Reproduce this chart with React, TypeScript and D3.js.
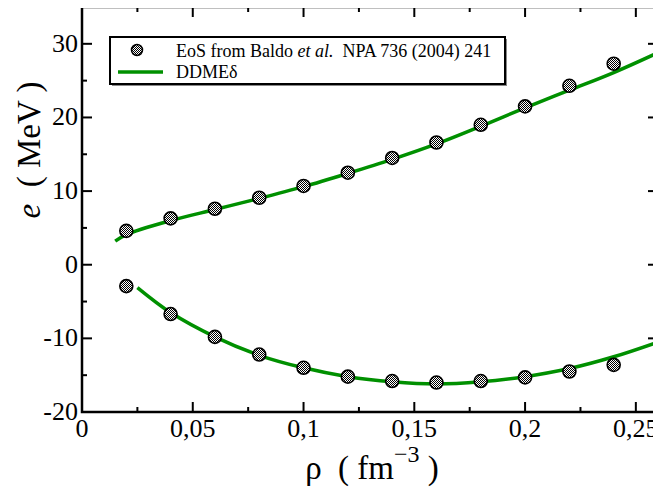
import React from 'react';
import * as d3 from 'd3';

// Baldo et al. data points
const rhoPts = [0.02, 0.04, 0.06, 0.08, 0.1, 0.12, 0.14, 0.16, 0.18, 0.2, 0.22, 0.24];
const pnmPts = [4.6, 6.3, 7.6, 9.1, 10.7, 12.5, 14.5, 16.6, 19.0, 21.5, 24.3, 27.3];
const snmPts = [-2.9, -6.7, -9.8, -12.2, -14.0, -15.2, -15.8, -16.0, -15.8, -15.3, -14.5, -13.6];

// DDME-delta curves
const rhoUp = [0.015, 0.02, 0.04, 0.06, 0.08, 0.1, 0.12, 0.14, 0.16, 0.18, 0.2, 0.22, 0.24, 0.26];
const ddmeUp = [3.2, 4.1, 6.0, 7.5, 9.0, 10.6, 12.4, 14.3, 16.4, 18.8, 21.3, 23.7, 26.1, 28.8];
const rhoLo = [0.025, 0.04, 0.06, 0.08, 0.1, 0.12, 0.14, 0.16, 0.18, 0.2, 0.22, 0.24, 0.26];
const ddmeLo = [-3.1, -6.5, -9.8, -12.3, -14.0, -15.2, -15.9, -16.2, -15.9, -15.2, -14.1, -12.5, -10.5];

const xTicks = [0, 0.05, 0.1, 0.15, 0.2, 0.25];
const xTickLabels = ['0', '0,05', '0,1', '0,15', '0,2', '0,25'];
const yTicks = [-20, -10, 0, 10, 20, 30];

const W = 661, H = 488;
const FONT = 'Liberation Serif';
const GREEN = '#009000';

const x = d3.scaleLinear().domain([0, 0.26]).range([82, 658]);
const y = d3.scaleLinear().domain([-20, 35]).range([412, 7]);

const line = d3.line<[number, number]>()
  .x(d => x(d[0])).y(d => y(d[1]))
  .curve(d3.curveCatmullRom);

const xMinor = d3.range(0, 0.2601, 0.025);
const yMinor = d3.range(-20, 35.01, 5);

const App = () => {
  const curves = [[rhoUp, ddmeUp], [rhoLo, ddmeLo]].map(([xs, ys]) =>
    line(xs.map((v, i) => [v, ys[i]] as [number, number])) || '');

  return (
    <svg width={W} height={H} fontFamily={FONT} overflow="visible">
      <defs>
        <pattern id="checker" width={2} height={2} patternUnits="userSpaceOnUse">
          <rect width={2} height={2} fill="#fff" />
          <rect width={1} height={1} fill="#000" />
          <rect x={1} y={1} width={1} height={1} fill="#000" />
        </pattern>
      </defs>
      {/* undo the 8px body margin */}
      <g transform="translate(-8,-8)">
        {/* frame */}
        <rect x={x(0)} y={y(35)} width={x(0.26) - x(0)} height={y(-20) - y(35)}
          fill="none" stroke="#000" strokeWidth={2.5} />

        {/* inward ticks on all sides */}
        <g stroke="#000" strokeWidth={2}>
          {xMinor.map((v, i) => {
            const len = i % 2 === 0 ? 10 : 5;
            return (
              <g key={'xt' + i}>
                <line x1={x(v)} x2={x(v)} y1={y(-20)} y2={y(-20) - len} />
                <line x1={x(v)} x2={x(v)} y1={y(35)} y2={y(35) + len} />
              </g>
            );
          })}
          {yMinor.map((v, i) => {
            const len = i % 2 === 0 ? 10 : 5;
            return (
              <g key={'yt' + i}>
                <line y1={y(v)} y2={y(v)} x1={x(0)} x2={x(0) + len} />
                <line y1={y(v)} y2={y(v)} x1={x(0.26)} x2={x(0.26) - len} />
              </g>
            );
          })}
        </g>

        {/* tick labels */}
        {xTicks.map((d, i) => (
          <text key={'xl' + i} x={x(d)} y={437} textAnchor="middle"
            fontFamily={FONT} fontSize={26}>{xTickLabels[i]}</text>
        ))}
        {yTicks.map(d => (
          <text key={'yl' + d} x={78} y={y(d) + 8} textAnchor="end"
            fontFamily={FONT} fontSize={26}>{String(d)}</text>
        ))}

        {/* axis titles */}
        <text x={372} y={479} textAnchor="middle" fontFamily={FONT} fontSize={33} xmlSpace="preserve">
          <tspan>ρ  ( fm</tspan>
          <tspan dy={-17} fontSize={24}>−3</tspan>
          <tspan dy={17}> )</tspan>
        </text>
        <text transform="translate(40,150) rotate(-90)" textAnchor="middle"
          fontFamily={FONT} fontSize={33} xmlSpace="preserve">
          <tspan fontStyle="italic">e</tspan>
          <tspan>  ( MeV )</tspan>
        </text>

        {/* DDME-delta curves */}
        {curves.map((d, i) => (
          <path key={'c' + i} d={d} fill="none" stroke={GREEN} strokeWidth={3.5} />
        ))}

        {/* Baldo points */}
        {[pnmPts, snmPts].map((ys, k) => (
          <g key={'p' + k}>
            {rhoPts.map((r, i) => (
              <circle key={i} cx={x(r)} cy={y(ys[i])} r={6.5}
                fill="url(#checker)" stroke="#000" strokeWidth={1.6} />
            ))}
          </g>
        ))}

        {/* legend */}
        <g>
          <rect x={112} y={39} width={395} height={47} fill="#888" />
          <rect x={110} y={37} width={395} height={47} fill="#fff" stroke="#000" strokeWidth={2} />
          <circle cx={137} cy={50} r={5.5} fill="url(#checker)" stroke="#000" strokeWidth={1.5} />
          <text x={176} y={57} fontFamily={FONT} fontSize={18}>
            <tspan>EoS from Baldo </tspan>
            <tspan fontStyle="italic">et al.</tspan>
            <tspan>{'\u00a0\u00a0'}NPA 736 (2004) 241</tspan>
          </text>
          <line x1={118} x2={163} y1={72} y2={72} stroke={GREEN} strokeWidth={3.5} />
          <text x={176} y={78} fontFamily={FONT} fontSize={18}>DDMEδ</text>
        </g>
      </g>
    </svg>
  );
};

export default App;
